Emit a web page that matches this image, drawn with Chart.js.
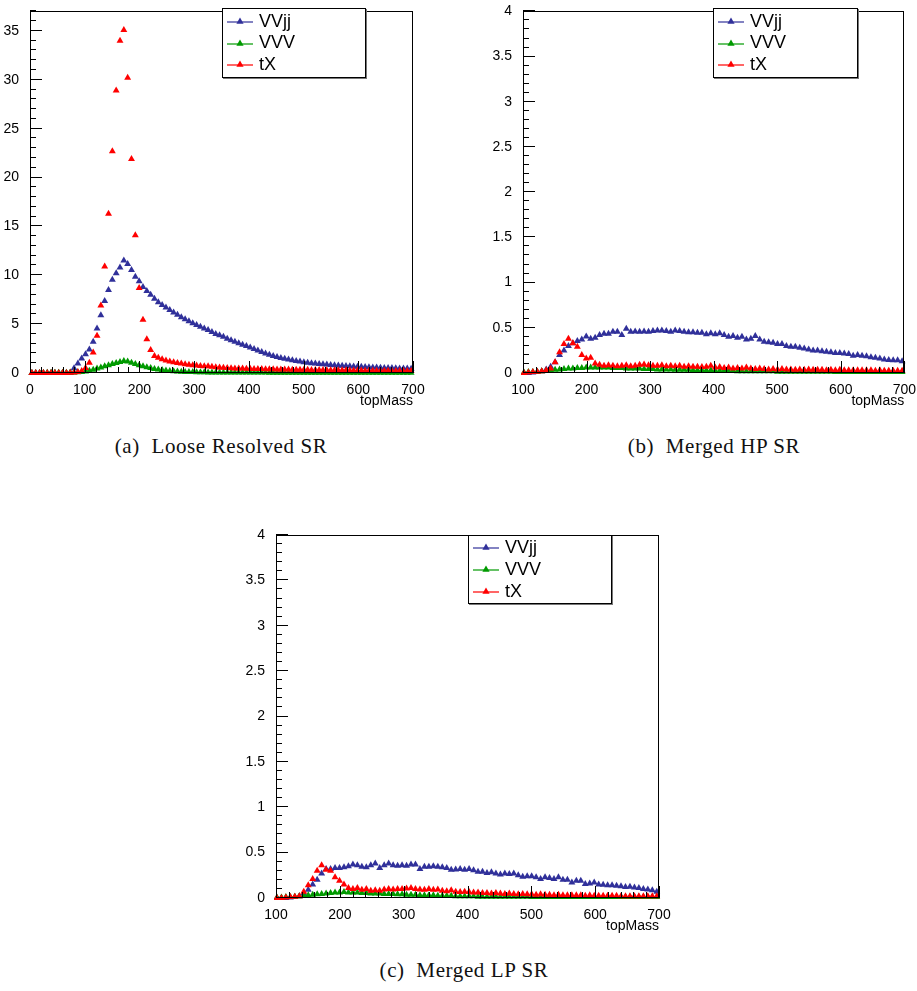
<!DOCTYPE html>
<html><head><meta charset="utf-8">
<script src="https://cdn.jsdelivr.net/npm/chart.js@4.4.1/dist/chart.umd.min.js"></script>
<style>
html,body{margin:0;padding:0;background:#fff;}
body{width:917px;height:991px;position:relative;overflow:hidden;font-family:"Liberation Sans",Arial,sans-serif;}
.pane{position:absolute;}
.legend{position:absolute;background:#fff;border:1px solid #000;box-shadow:1px 1px 0 #777;box-sizing:border-box;}
.legend .row{position:absolute;left:4px;height:22px;display:flex;align-items:center;font-size:18px;color:#000;}
.legend svg{margin-right:6px;}
.cap{position:absolute;width:400px;text-align:center;font-family:"Liberation Serif",serif;font-size:21px;line-height:24px;letter-spacing:0.6px;white-space:pre;color:#111;}
</style></head>
<body>
<canvas id="ca" class="pane" width="430" height="410" style="left:0px;top:0px;width:430px;height:410px"></canvas>
<canvas id="cb" class="pane" width="477" height="410" style="left:440px;top:0px;width:477px;height:410px"></canvas>
<canvas id="cc" class="pane" width="440" height="415" style="left:240px;top:520px;width:440px;height:415px"></canvas>
<div class="cap" style="left:21px;top:434px">(a)  Loose Resolved SR</div>
<div class="cap" style="left:514px;top:434px">(b)  Merged HP SR</div>
<div class="cap" style="left:264px;top:958px">(c)  Merged LP SR</div>
<script>
// ---- data ----
const seriesNames = ["VVjj", "VVV", "tX"];
const seriesColors = ["#30309a", "#009a00", "#ff0000"];
const xTitle = "topMass";

const binCenters = [3.5, 10.5, 17.5, 24.5, 31.5, 38.5, 45.5, 52.5, 59.5, 66.5, 73.5, 80.5, 87.5, 94.5, 101.5, 108.5, 115.5, 122.5, 129.5, 136.5, 143.5, 150.5, 157.5, 164.5, 171.5, 178.5, 185.5, 192.5, 199.5, 206.5, 213.5, 220.5, 227.5, 234.5, 241.5, 248.5, 255.5, 262.5, 269.5, 276.5, 283.5, 290.5, 297.5, 304.5, 311.5, 318.5, 325.5, 332.5, 339.5, 346.5, 353.5, 360.5, 367.5, 374.5, 381.5, 388.5, 395.5, 402.5, 409.5, 416.5, 423.5, 430.5, 437.5, 444.5, 451.5, 458.5, 465.5, 472.5, 479.5, 486.5, 493.5, 500.5, 507.5, 514.5, 521.5, 528.5, 535.5, 542.5, 549.5, 556.5, 563.5, 570.5, 577.5, 584.5, 591.5, 598.5, 605.5, 612.5, 619.5, 626.5, 633.5, 640.5, 647.5, 654.5, 661.5, 668.5, 675.5, 682.5, 689.5, 696.5];
// merged panels show bins from 101.5 upward
const mergedCenters = binCenters.slice(14);

// (a) Loose Resolved SR
const resVVjj = [0,0,0,0,0,0,0,0,0,0,0,
 0.48,0.98,1.49,1.93,2.41,3.19,4.55,5.9,7.36,8.5,
 9.53,10.2,10.8,11.5,11.16,10.55,9.86,9.4,8.8,8.4,
 8.0,7.6,7.25,6.95,6.7,6.45,6.2,5.95,5.7,5.5,
 5.3,5.1,4.9,4.72,4.55,4.4,4.2,4.0,3.85,3.7,
 3.5,3.35,3.2,3.05,2.9,2.75,2.6,2.45,2.3,2.15,
 2.0,1.88,1.75,1.63,1.53,1.45,1.37,1.3,1.23,1.17,
 1.11,1.06,1.01,0.97,0.93,0.89,0.86,0.83,0.8,0.77,
 0.75,0.72,0.7,0.67,0.65,0.63,0.61,0.59,0.57,0.55,
 0.54,0.52,0.51,0.5,0.48,0.47,0.46,0.45,0.44];
const resVVV = [0.01,0.01,0.01,0.01,0.02,0.02,0.02,0.02,0.03,0.03,0.04,
 0.05,0.07,0.1,0.15,0.22,0.32,0.45,0.57,0.7,0.8,
 0.92,1.02,1.12,1.22,1.18,1.05,0.92,0.8,0.68,0.58,
 0.5,0.42,0.36,0.3,0.25,0.21,0.18,0.15,0.13,0.11,
 0.1,0.09,0.08,0.07,0.07,0.06,0.06,0.05,0.05,0.05,
 0.04,0.04,0.04,0.04,0.04,0.04,0.04,0.04,0.04,0.04,
 0.04,0.03,0.03,0.03,0.03,0.03,0.03,0.03,0.03,0.03,
 0.02,0.02,0.02,0.02,0.02,0.02,0.02,0.02,0.02,0.02,
 0.02,0.02,0.02,0.02,0.02,0.02,0.02,0.02,0.02,0.02,
 0.02,0.02,0.02,0.02,0.02,0.02,0.02,0.02,0.02];
const resTX = [0,0,0,0,0,0,0,0,0,0,0.02,
 0.05,0.1,0.2,0.5,1.05,2.1,3.8,6.9,10.9,16.3,
 22.7,28.9,34.0,35.1,30.2,21.9,14.1,8.7,5.45,3.45,
 2.35,1.75,1.55,1.4,1.28,1.18,1.1,1.02,0.96,0.9,
 0.85,0.8,0.76,0.72,0.7,0.68,0.64,0.6,0.57,0.54,
 0.51,0.49,0.47,0.46,0.45,0.44,0.43,0.42,0.41,0.4,
 0.39,0.38,0.38,0.37,0.36,0.36,0.35,0.34,0.34,0.33,
 0.32,0.32,0.31,0.31,0.3,0.3,0.29,0.29,0.28,0.28,
 0.27,0.27,0.26,0.26,0.25,0.25,0.24,0.24,0.23,0.23,
 0.22,0.22,0.22,0.21,0.21,0.21,0.2,0.2,0.2];

// (b) Merged HP SR
const hpVVjj = [0,0,0.005,0.01,0.02,0.04,0.07,
 0.12,0.2,0.25,0.3,0.33,0.355,0.37,0.405,0.38,0.39,
 0.42,0.435,0.435,0.455,0.455,0.42,0.49,0.455,0.46,0.455,
 0.46,0.455,0.465,0.47,0.47,0.465,0.455,0.47,0.465,0.455,
 0.45,0.45,0.445,0.445,0.43,0.44,0.43,0.44,0.42,0.4,
 0.41,0.39,0.4,0.37,0.38,0.41,0.37,0.345,0.34,0.335,
 0.32,0.32,0.3,0.29,0.29,0.28,0.27,0.26,0.25,0.25,
 0.24,0.235,0.23,0.22,0.22,0.215,0.21,0.19,0.2,0.19,
 0.185,0.175,0.17,0.16,0.15,0.145,0.14,0.14,0.13];
const hpVVV = [0.005,0.01,0.01,0.015,0.02,0.025,0.03,
 0.035,0.04,0.045,0.05,0.05,0.055,0.055,0.06,0.06,0.06,
 0.06,0.06,0.06,0.055,0.055,0.055,0.05,0.05,0.05,0.05,
 0.045,0.045,0.045,0.04,0.04,0.04,0.04,0.035,0.035,0.035,
 0.035,0.03,0.03,0.03,0.03,0.03,0.025,0.025,0.025,0.025,
 0.025,0.02,0.02,0.02,0.02,0.02,0.02,0.02,0.02,0.02,
 0.015,0.015,0.015,0.015,0.015,0.015,0.015,0.015,0.015,0.015,
 0.015,0.015,0.015,0.01,0.01,0.01,0.01,0.01,0.01,0.01,
 0.01,0.01,0.01,0.01,0.01,0.01,0.01,0.01,0.01];
const hpTX = [0,0.005,0.01,0.015,0.02,0.03,0.05,
 0.12,0.23,0.32,0.38,0.33,0.29,0.2,0.16,0.17,0.105,
 0.09,0.08,0.085,0.08,0.075,0.08,0.085,0.075,0.08,0.09,
 0.095,0.085,0.08,0.08,0.085,0.075,0.08,0.075,0.08,0.07,
 0.075,0.07,0.07,0.065,0.07,0.08,0.06,0.065,0.055,0.06,
 0.05,0.055,0.05,0.06,0.05,0.045,0.05,0.045,0.04,0.045,
 0.04,0.045,0.04,0.04,0.035,0.04,0.035,0.04,0.035,0.035,
 0.035,0.03,0.035,0.03,0.035,0.03,0.03,0.03,0.03,0.03,
 0.03,0.03,0.025,0.03,0.025,0.025,0.025,0.025,0.025];

// (c) Merged LP SR
const lpVVjj = [0,0,0,0.005,0.01,0.02,0.05,
 0.09,0.15,0.2,0.27,0.32,0.32,0.33,0.33,0.34,0.35,
 0.37,0.36,0.345,0.34,0.36,0.38,0.33,0.36,0.38,0.36,
 0.355,0.36,0.355,0.37,0.37,0.32,0.345,0.345,0.35,0.345,
 0.34,0.33,0.31,0.315,0.32,0.31,0.32,0.305,0.29,0.29,
 0.275,0.285,0.27,0.26,0.27,0.265,0.27,0.25,0.235,0.24,
 0.24,0.23,0.21,0.23,0.22,0.21,0.23,0.2,0.2,0.17,
 0.19,0.19,0.155,0.16,0.17,0.15,0.145,0.14,0.14,0.135,
 0.13,0.12,0.125,0.115,0.11,0.1,0.095,0.085,0.07];
const lpVVV = [0.005,0.005,0.01,0.01,0.015,0.02,0.025,
 0.03,0.035,0.04,0.045,0.05,0.055,0.06,0.06,0.065,0.06,
 0.06,0.06,0.055,0.055,0.05,0.05,0.05,0.045,0.045,0.045,
 0.04,0.04,0.035,0.035,0.035,0.03,0.03,0.03,0.03,0.025,
 0.025,0.025,0.025,0.02,0.02,0.02,0.02,0.02,0.015,0.015,
 0.015,0.015,0.015,0.015,0.015,0.015,0.015,0.015,0.015,0.015,
 0.01,0.01,0.01,0.01,0.01,0.01,0.01,0.01,0.01,0.01,
 0.01,0.01,0.01,0.01,0.01,0.01,0.01,0.01,0.01,0.01,
 0.01,0.01,0.01,0.01,0.01,0.01,0.01,0.01,0.01];
const lpTX = [0,0,0.005,0.01,0.015,0.02,0.07,
 0.14,0.21,0.3,0.36,0.31,0.3,0.23,0.19,0.15,0.11,
 0.1,0.11,0.09,0.1,0.08,0.085,0.08,0.095,0.1,0.095,
 0.1,0.1,0.105,0.11,0.1,0.095,0.09,0.1,0.09,0.095,
 0.08,0.075,0.085,0.07,0.065,0.07,0.065,0.06,0.06,0.055,
 0.055,0.05,0.055,0.05,0.045,0.05,0.045,0.04,0.045,0.04,
 0.04,0.035,0.04,0.035,0.035,0.03,0.035,0.03,0.03,0.03,
 0.03,0.03,0.025,0.03,0.025,0.025,0.025,0.025,0.025,0.025,
 0.02,0.02,0.02,0.02,0.02,0.02,0.02,0.02,0.02];

// ---- plotting ----
const FONT = '"Liberation Sans", Arial, sans-serif';

function rootAxes(o) {
  return {
    id: 'rootAxes',
    afterDatasetsDraw(chart) {
      const {ctx, chartArea: a, scales: {x, y}} = chart;
      ctx.save();
      ctx.strokeStyle = '#000';
      ctx.lineWidth = 1;
      ctx.beginPath();
      const ny = Math.round((o.yMax - o.yMin) / o.yMinor);
      for (let i = 0; i <= ny; i++) {
        const v = o.yMin + i * o.yMinor;
        const r = v / o.yMajor;
        const major = Math.abs(r - Math.round(r)) < 1e-6;
        const py = Math.round(y.getPixelForValue(v)) - 0.5;
        ctx.moveTo(a.left, py);
        ctx.lineTo(a.left + (major ? 12 : 6), py);
      }
      const nx = Math.round((o.xMax - o.xMin) / o.xMinor);
      for (let i = 0; i <= nx; i++) {
        const v = o.xMin + i * o.xMinor;
        const r = v / o.xMajor;
        const major = Math.abs(r - Math.round(r)) < 1e-6;
        const px = Math.round(x.getPixelForValue(v)) + 0.5;
        ctx.moveTo(px, a.bottom);
        ctx.lineTo(px, a.bottom - (major ? 12 : 6));
      }
      ctx.stroke();
      ctx.strokeRect(Math.round(a.left) + 0.5, Math.round(a.top) + 0.5,
                     Math.round(a.right - a.left) - 1, Math.round(a.bottom - a.top) - 1);
      ctx.restore();
    }
  };
}

function fmt(v) { return String(Math.round(v * 100) / 100); }

function makeChart(id, xs, series, cfg) {
  const order = [3, 2, 1];
  const datasets = series.map((vals, i) => ({
    label: seriesNames[i],
    data: vals.map((v, j) => ({x: xs[j], y: v})),
    backgroundColor: seriesColors[i],
    borderColor: seriesColors[i],
    pointStyle: 'triangle',
    pointRadius: 4,
    pointBorderWidth: 0,
    showLine: false,
    order: order[i],
    clip: 2
  }));
  return new Chart(document.getElementById(id), {
    type: 'scatter',
    data: {datasets},
    options: {
      responsive: false,
      animation: false,
      devicePixelRatio: 1,
      layout: {padding: cfg.pad},
      plugins: {
        legend: {display: false},
        tooltip: {enabled: false}
      },
      scales: {
        x: {
          type: 'linear', min: cfg.xMin, max: cfg.xMax,
          grid: {display: false}, border: {display: false},
          ticks: {stepSize: 100, autoSkip: false, maxRotation: 0, includeBounds: false, padding: 1,
                  color: '#000', font: {family: FONT, size: 14}, callback: fmt},
          title: {display: true, text: xTitle, align: 'end', color: '#000',
                  font: {family: FONT, size: 14}, padding: {top: 0, bottom: 0}},
          afterFit(s) { s.height = cfg.xh; }
        },
        y: {
          type: 'linear', min: 0, max: cfg.yMax,
          grid: {display: false}, border: {display: false},
          ticks: {stepSize: cfg.yStep, autoSkip: false, includeBounds: false, padding: 3,
                  color: '#000', font: {family: FONT, size: 14}, callback: fmt},
          afterFit(s) { s.width = cfg.yw; }
        }
      }
    },
    plugins: [rootAxes(cfg.ticks)]
  });
}

makeChart('ca', binCenters, [resVVjj, resVVV, resTX], {
  xMin: 0, xMax: 700, yMax: 37, yStep: 5, yw: 30, xh: 37,
  pad: {left: 0, right: 17, top: 8, bottom: 0},
  ticks: {yMin: 0, yMax: 37, yMinor: 1, yMajor: 5, xMin: 0, xMax: 700, xMinor: 20, xMajor: 100}
});
makeChart('cb', mergedCenters, [hpVVjj, hpVVV, hpTX], {
  xMin: 100, xMax: 700, yMax: 4, yStep: 0.5, yw: 83, xh: 37,
  pad: {left: 0, right: 12, top: 9, bottom: 0},
  ticks: {yMin: 0, yMax: 4, yMinor: 0.1, yMajor: 0.5, xMin: 100, xMax: 700, xMinor: 20, xMajor: 100}
});
makeChart('cc', mergedCenters, [lpVVjj, lpVVV, lpTX], {
  xMin: 100, xMax: 700, yMax: 4, yStep: 0.5, yw: 36, xh: 37,
  pad: {left: 0, right: 21, top: 15, bottom: 0},
  ticks: {yMin: 0, yMax: 4, yMinor: 0.1, yMajor: 0.5, xMin: 100, xMax: 700, xMinor: 20, xMajor: 100}
});

// ---- legends (HTML) ----
function makeLegend(left, top, w, h, rowTops) {
  const box = document.createElement('div');
  box.className = 'legend';
  Object.assign(box.style, {left: left + 'px', top: top + 'px', width: w + 'px', height: h + 'px'});
  seriesNames.forEach((name, i) => {
    const row = document.createElement('div');
    row.className = 'row';
    row.style.top = rowTops[i] + 'px';
    const c = seriesColors[i];
    row.innerHTML = '<svg width="26" height="12" viewBox="0 0 26 12"><line x1="0" y1="7" x2="26" y2="7" stroke="' + c +
      '" stroke-width="1.6" opacity="0.75"/><polygon points="13,2.5 16.6,8.8 9.4,8.8" fill="' + c + '"/></svg>' +
      '<span>' + name + '</span>';
    box.appendChild(row);
  });
  document.body.appendChild(box);
}
makeLegend(222, 8, 144, 70, [1, 22.5, 44]);
makeLegend(713, 8, 145, 70, [1, 22.5, 44]);
makeLegend(468, 535, 144, 69, [0, 22, 44]);
</script>
</body></html>
